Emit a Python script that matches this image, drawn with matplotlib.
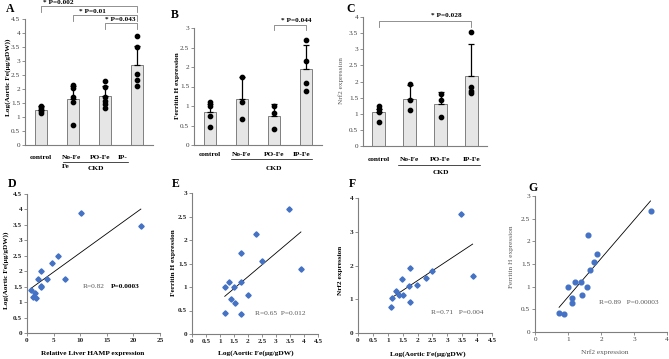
import numpy as np
import matplotlib
matplotlib.use("Agg")
import matplotlib.pyplot as plt
from matplotlib.transforms import blended_transform_factory
from matplotlib.lines import Line2D

plt.rcParams['font.family'] = ['Liberation Serif', 'DejaVu Serif']

# ---- data ----
groups = ['control', 'No-Fe', 'PO-Fe', 'IP-Fe']

# A: aortic iron
fe_mean = [1.25, 1.65, 1.75, 2.85]
fe_err = [0.15, 0.45, 0.35, 0.70]
fe_pts = [[1.15, 1.2, 1.28, 1.35, 1.4],
          [2.15, 2.05, 1.72, 1.55, 0.72],
          [2.29, 2.06, 1.73, 1.57, 1.46, 1.33],
          [3.9, 3.51, 2.54, 2.32, 2.1]]
fe_sig = [(0, 3, '* P=0.002'), (1, 3, '* P=0.01'), (2, 3, '* P=0.043')]

# B: ferritin H
ftn_mean = [0.84, 1.17, 0.75, 1.94]
ftn_err = [0.20, 0.58, 0.29, 0.63]
ftn_pts = [[1.1, 1.0, 0.75, 0.45],
           [1.75, 1.1, 0.66],
           [1.0, 0.83, 0.41],
           [2.68, 2.16, 1.58, 1.39]]
ftn_sig = [(2, 3, '* P=0.044')]

# C: Nrf2
nrf_mean = [1.04, 1.47, 1.30, 2.17]
nrf_err = [0.10, 0.43, 0.38, 1.00]
nrf_pts = [[1.24, 1.14, 1.04, 0.75],
           [1.91, 1.42, 1.13],
           [1.6, 1.42, 0.9],
           [3.52, 1.82, 1.71, 1.63]]
nrf_sig = [(0, 3, '* P=0.028')]

# D: HAMP vs aortic Fe
hamp_x = [0.8, 1.06, 1.44, 1.75, 2.0, 2.56, 2.6, 2.56, 3.75, 4.7, 5.9, 7.2, 10.1, 21.4]
hamp_y = [1.39, 1.17, 1.3, 1.14, 1.75, 1.52, 1.48, 2.0, 1.74, 2.28, 2.5, 1.75, 3.88, 3.46]

# E: aortic Fe vs ferritin H
e_x = [1.17, 1.19, 1.31, 1.38, 1.49, 1.55, 1.74, 1.74, 1.76, 2.0, 2.27, 2.5, 3.45, 3.89]
e_y = [0.45, 1.0, 1.11, 0.75, 1.0, 0.65, 1.73, 1.1, 0.43, 0.83, 2.13, 1.56, 2.67, 1.38]

# F: aortic Fe vs Nrf2
f_x = [1.12, 1.15, 1.29, 1.38, 1.48, 1.51, 1.71, 1.74, 1.74, 1.99, 2.27, 2.49, 3.45, 3.85]
f_y = [0.76, 1.03, 1.23, 1.13, 1.6, 1.13, 1.4, 1.93, 0.92, 1.42, 1.63, 1.85, 3.53, 1.7]

# G: Nrf2 vs ferritin H
g_x = [0.73, 0.89, 0.99, 1.11, 1.11, 1.21, 1.39, 1.41, 1.58, 1.6, 1.68, 1.8, 1.89, 3.5]
g_y = [0.43, 0.4, 0.99, 0.64, 0.74, 1.1, 1.1, 0.82, 0.99, 2.13, 1.37, 1.55, 1.73, 2.67]

W, H = 669, 359
fig = plt.figure(figsize=(W / 100, H / 100), dpi=100)


def box(x0, x1, ytop, ybot):
    return [x0 / W, 1 - ybot / H, (x1 - x0) / W, (ybot - ytop) / H]


def ftxt(x, y, s, **kw):
    fig.text(x / W, 1 - y / H, s, **kw)


def style(ax, bold=False, col='#404040'):
    for s in ['top', 'right']:
        ax.spines[s].set_visible(False)
    for s in ['left', 'bottom']:
        ax.spines[s].set_color('#7f7f7f')
        ax.spines[s].set_linewidth(0.8)
    ax.tick_params(length=2, width=0.6, color='#7f7f7f', labelsize=5.2,
                   pad=1.5, labelcolor=col)
    for t in ax.get_xticklabels() + ax.get_yticklabels():
        t.set_fontweight('bold' if bold else 'normal')


def ticks(ax, axis, top, step):
    v = np.arange(0, top + step / 2, step)
    lab = [f'{t:g}' for t in v]
    if axis == 'x':
        ax.set_xticks(v)
        ax.set_xticklabels(lab)
    else:
        ax.set_yticks(v)
        ax.set_yticklabels(lab)


def bar_panel(ax, means, errs, pts, ymax, step):
    x = np.arange(len(means))
    ax.bar(x, means, width=0.4, color='#e6e6e6', edgecolor='#7f7f7f', lw=0.7, zorder=1)
    ax.errorbar(x, means, yerr=[np.zeros(len(errs)), errs], fmt='none', ecolor='k',
                elinewidth=0.9, capsize=2.2, capthick=0.9, zorder=2)
    for xi, p in zip(x, pts):
        ax.plot([xi] * len(p), p, 'o', color='k', ms=3.1, zorder=3)
    ax.set_xlim(-0.5, 3.5)
    ax.set_ylim(0, ymax)
    ax.set_xticks([])
    ticks(ax, 'y', ymax, step)
    style(ax)


def bracket(ax, x1, x2, y, h, s, tx, ty, ha='center'):
    ax.plot([x1, x1, x2, x2], [y - h, y, y, y - h], color='#7f7f7f', lw=0.6, clip_on=False)
    ax.text(tx, ty, s, ha=ha, va='center', fontsize=5.2, fontweight='bold', clip_on=False)


def under(ax, tr, x1, x2, ypx):
    ax.add_line(Line2D([x1, x2], [1 - ypx / H] * 2, transform=tr, color='k',
                       lw=0.5, clip_on=False))


lab_kw = dict(fontsize=5.3, fontweight='bold', ha='center', va='center')

# ---- A ----
axA = fig.add_axes(box(25, 153, 19, 145))
bar_panel(axA, fe_mean, fe_err, fe_pts, 4.5, 0.5)
bracket(axA, fe_sig[0][0], fe_sig[0][1], 4.96, 0.2, fe_sig[0][2], 0.05, 5.09, 'left')
bracket(axA, fe_sig[1][0], fe_sig[1][1], 4.64, 0.2, fe_sig[1][2], 1.2, 4.78, 'left')
bracket(axA, fe_sig[2][0], fe_sig[2][1], 4.36, 0.2, fe_sig[2][2], 2.0, 4.47, 'left')
trA = blended_transform_factory(axA.transData, fig.transFigure)
axA.text(0, 1 - 157 / H, groups[0], transform=trA, **lab_kw)
axA.text(0.94, 1 - 157 / H, 'No-Fe', transform=trA, **lab_kw)
axA.text(1.84, 1 - 157 / H, 'PO-Fe', transform=trA, **lab_kw)
axA.text(2.56, 1 - 157 / H, 'IP-', transform=trA, **lab_kw)
axA.text(0.78, 1 - 166 / H, 'Fe', transform=trA, **lab_kw)
axA.text(1.72, 1 - 169 / H, 'CKD', transform=trA, **lab_kw)
under(axA, trA, 0.69, 2.72, 161.5)
ftxt(8, 77, 'Log(Aortic Fe(µg/gDW))', rotation=90, fontsize=5.2, fontweight='bold',
     ha='center', va='center')
ftxt(10, 9, 'A', fontsize=8.5, fontweight='bold', ha='center', va='center')

# ---- B ----
axB = fig.add_axes(box(194, 322, 28, 145))
bar_panel(axB, ftn_mean, ftn_err, ftn_pts, 3, 0.5)
bracket(axB, ftn_sig[0][0], ftn_sig[0][1], 3.08, 0.12, ftn_sig[0][2], 2.7, 3.2)
trB = blended_transform_factory(axB.transData, fig.transFigure)
for i, g in enumerate(groups):
    axB.text(i - (0.15 if i == 3 else 0), 1 - 155 / H, g, transform=trB, **lab_kw)
under(axB, trB, 0.66, 3.2, 159.5)
axB.text(2.0, 1 - 168 / H, 'CKD', transform=trB, **lab_kw)
ftxt(178, 86, 'Ferritin H expression', rotation=90, fontsize=5.2, fontweight='bold',
     ha='center', va='center')
ftxt(175, 15, 'B', fontsize=8.5, fontweight='bold', ha='center', va='center')

# ---- C ----
axC = fig.add_axes(box(363, 487, 17, 146))
bar_panel(axC, nrf_mean, nrf_err, nrf_pts, 4, 0.5)
bracket(axC, nrf_sig[0][0], nrf_sig[0][1], 3.88, 0.19, nrf_sig[0][2], 2.2, 4.06)
trC = blended_transform_factory(axC.transData, fig.transFigure)
for i, g in enumerate(groups):
    axC.text(i, 1 - 160 / H, g, transform=trC, **lab_kw)
under(axC, trC, 0.63, 3.27, 164.5)
axC.text(2.0, 1 - 172 / H, 'CKD', transform=trC, **lab_kw)
ftxt(341, 81, 'Nrf2 expression', rotation=90, fontsize=5.2, color='#595959',
     ha='center', va='center')
ftxt(351, 9, 'C', fontsize=8.5, fontweight='bold', ha='center', va='center')


# ---- scatter panels ----
def scatter_panel(ax, x, y, marker, xmax, xstep, ymax, ystep, bold):
    ax.plot(x, y, linestyle='none', marker=marker, color='#4472c4',
            ms=2.7 if marker == 'D' else 3.4, mec='#4472c4', zorder=3)
    k, b = np.polyfit(x, y, 1)
    xs = np.array([min(x), max(x)])
    ax.plot(xs, k * xs + b, color='k', lw=0.6, zorder=2)
    ax.set_xlim(0, xmax)
    ax.set_ylim(0, ymax)
    ticks(ax, 'x', xmax, xstep)
    ticks(ax, 'y', ymax, ystep)
    style(ax, bold=bold, col='#262626' if bold else '#404040')


# D
axD = fig.add_axes(box(27, 160, 194, 333))
scatter_panel(axD, hamp_x, hamp_y, 'D', 25, 5, 4.5, 0.5, True)
axD.text(10.5, 1.5, 'R=0.82', color='#595959', fontsize=5.3, va='center')
axD.text(15.8, 1.5, 'P=0.0003', color='k', fontsize=5.3, fontweight='bold', va='center')
ftxt(93, 353, 'Relative Liver HAMP expression', fontsize=5.3, fontweight='bold',
     ha='center', va='center')
ftxt(6, 270, 'Log(Aortic Fe(µg/gDW))', rotation=90, fontsize=5.2, fontweight='bold',
     ha='center', va='center')
ftxt(12, 184, 'D', fontsize=8.5, fontweight='bold', ha='center', va='center')

# E
axE = fig.add_axes(box(192, 318, 193, 334))
scatter_panel(axE, e_x, e_y, 'D', 4.5, 0.5, 3, 0.5, True)
axE.text(2.25, 0.43, 'R=0.65  P=0.012', color='#595959', fontsize=5.3, va='center')
ftxt(256, 353, 'Log(Aortic Fe(µg/gDW)', fontsize=5.3, fontweight='bold',
     ha='center', va='center')
ftxt(173, 263, 'Ferritin H expression', rotation=90, fontsize=5.2, fontweight='bold',
     ha='center', va='center')
ftxt(176, 184, 'E', fontsize=8.5, fontweight='bold', ha='center', va='center')

# F
axF = fig.add_axes(box(358, 492, 198, 333))
scatter_panel(axF, f_x, f_y, 'D', 4.5, 0.5, 4, 1, True)
axF.text(2.46, 0.6, 'R=0.71   P=0.004', color='#595959', fontsize=5.3, va='center')
ftxt(428, 354, 'Log(Aortic Fe(µg/gDW)', fontsize=5.3, fontweight='bold',
     ha='center', va='center')
ftxt(341, 270, 'Nrf2 expression', rotation=90, fontsize=5.2, fontweight='bold',
     ha='center', va='center')
ftxt(352, 184, 'F', fontsize=8.5, fontweight='bold', ha='center', va='center')

# G
axG = fig.add_axes(box(535, 667, 196, 332))
scatter_panel(axG, g_x, g_y, 'o', 4, 1, 3, 0.5, False)
axG.text(1.94, 0.65, 'R=0.89   P=0.00003', color='#595959', fontsize=5.3, va='center')
ftxt(605, 352, 'Nrf2 expression', fontsize=5.3, color='#595959',
     ha='center', va='center')
ftxt(512, 257, 'Ferritin H expression', rotation=90, fontsize=5.2, color='#595959',
     ha='center', va='center')
ftxt(533, 188, 'G', fontsize=8.5, fontweight='bold', ha='center', va='center')

fig.savefig('out.png', dpi=100)
